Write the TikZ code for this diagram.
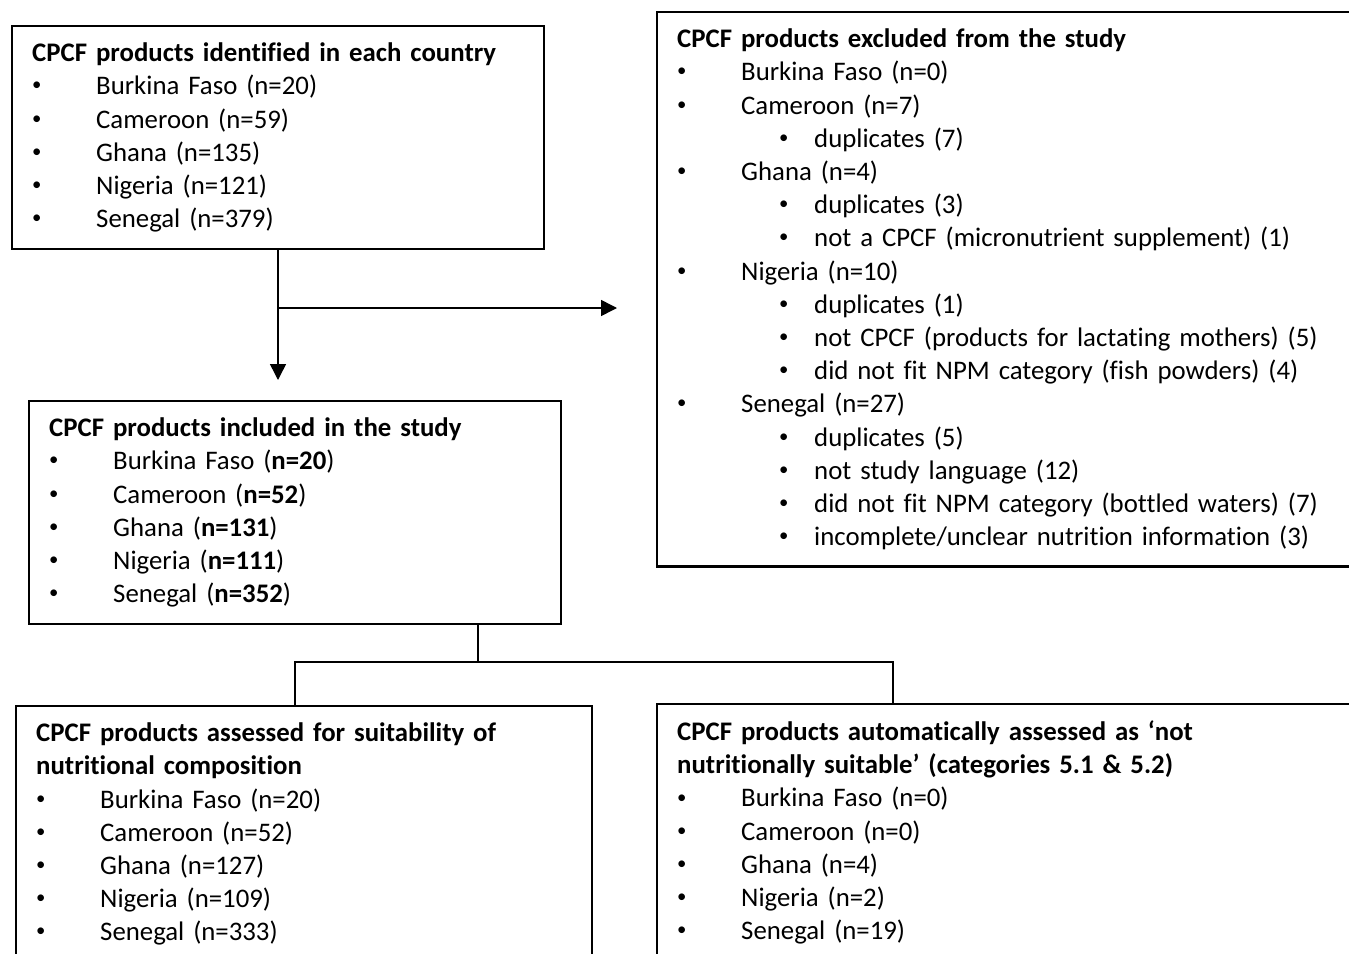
\documentclass[tikz,border=0pt]{standalone}
\usepackage{fontspec}
\setmainfont{Carlito}[Ligatures=NoCommon]
\usetikzlibrary{arrows.meta}

\newcommand{\dotmark}{\raisebox{0.3ex}{\scalebox{0.7}{\textbullet}}}
\newcommand{\itm}[1]{\makebox[32pt][l]{\dotmark}#1}
\newcommand{\subitm}[1]{\hspace*{51pt}\makebox[17.5pt][l]{\dotmark}#1}

\begin{document}
\begin{tikzpicture}[x=0.5pt,y=-0.5pt,
  box/.style={draw, line width=1.2pt, anchor=north west, align=left,
    inner xsep=10pt, inner ysep=8.3pt, font=\fontsize{13.4}{16.6}\selectfont},
  link/.style={line width=0.75pt},
  arr/.style={link, -{Triangle[length=8pt,width=8pt]}}]
\useasboundingbox (0,0) rectangle (1349,953);
\clip (0,0) rectangle (1349,953);

\node[box, text width=246pt] (ident) at (11,25)
  {\textbf{CPCF products identified in each country}\\
   \itm{Burkina Faso (n=20)}\\
   \itm{Cameroon (n=59)}\\
   \itm{Ghana (n=135)}\\
   \itm{Nigeria (n=121)}\\
   \itm{Senegal (n=379)}};

\node[box, text width=335pt] (excl) at (656,11)
  {\textbf{CPCF products excluded from the study}\\
   \itm{Burkina Faso (n=0)}\\
   \itm{Cameroon (n=7)}\\
   \subitm{duplicates (7)}\\
   \itm{Ghana (n=4)}\\
   \subitm{duplicates (3)}\\
   \subitm{not a CPCF (micronutrient supplement) (1)}\\
   \itm{Nigeria (n=10)}\\
   \subitm{duplicates (1)}\\
   \subitm{not CPCF (products for lactating mothers) (5)}\\
   \subitm{did not fit NPM category (fish powders) (4)}\\
   \itm{Senegal (n=27)}\\
   \subitm{duplicates (5)}\\
   \subitm{not study language (12)}\\
   \subitm{did not fit NPM category (bottled waters) (7)}\\
   \subitm{incomplete/unclear nutrition information (3)}};

\node[box, text width=246pt] (incl) at (28,400)
  {\textbf{CPCF products included in the study}\\
   \itm{Burkina Faso (\textbf{n=20})}\\
   \itm{Cameroon (\textbf{n=52})}\\
   \itm{Ghana (\textbf{n=131})}\\
   \itm{Nigeria (\textbf{n=111})}\\
   \itm{Senegal (\textbf{n=352})}};

\node[box, text width=268pt] (assess) at (15,705)
  {\textbf{CPCF products assessed for suitability of}\\
   \textbf{nutritional composition}\\
   \itm{Burkina Faso (n=20)}\\
   \itm{Cameroon (n=52)}\\
   \itm{Ghana (n=127)}\\
   \itm{Nigeria (n=109)}\\
   \itm{Senegal (n=333)}};

\node[box, text width=335pt] (auto) at (656,703)
  {\textbf{CPCF products automatically assessed as ‘not}\\
   \textbf{nutritionally suitable’ (categories 5.1 \& 5.2)}\\
   \itm{Burkina Faso (n=0)}\\
   \itm{Cameroon (n=0)}\\
   \itm{Ghana (n=4)}\\
   \itm{Nigeria (n=2)}\\
   \itm{Senegal (n=19)}};

% connectors
\coordinate (dtip) at (278,380);
\coordinate (rtip) at (617,308);
\coordinate (split) at (478,662);
\coordinate (ldrop) at (295,0);
\coordinate (rdrop) at (893,0);
\draw[arr] (dtip |- ident.south) -- (dtip);
\draw[arr] (dtip |- rtip) -- (rtip);
\draw[link] (split |- incl.south) -- (split);
\draw[link] (ldrop |- assess.north) |- (split) -| (rdrop |- auto.north);
\end{tikzpicture}
\end{document}
